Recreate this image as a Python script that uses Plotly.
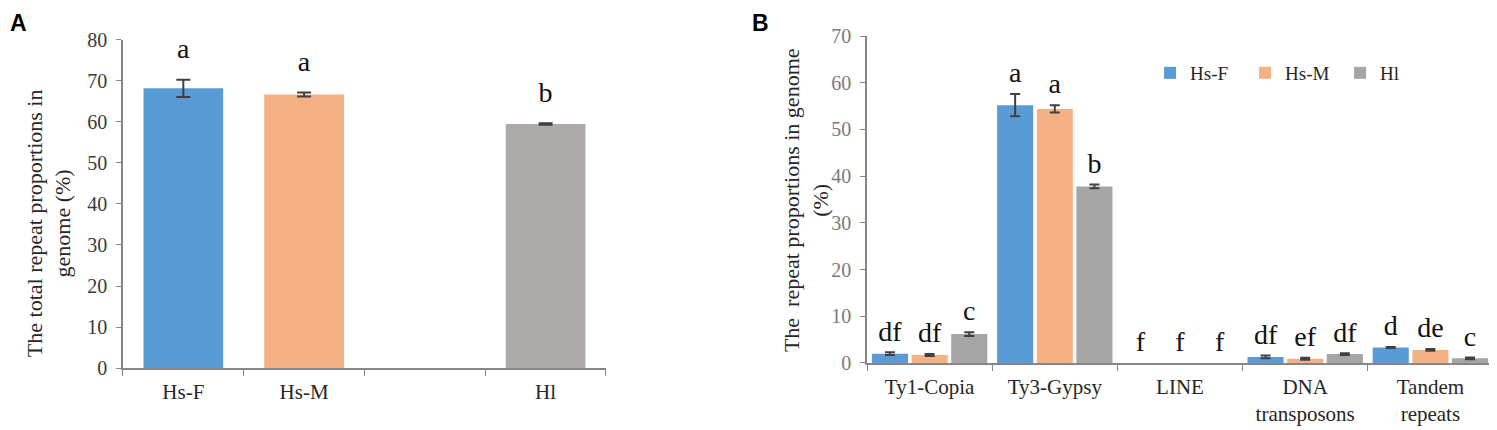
import plotly.graph_objects as go

# panel A data
groups_a = ["Hs-F", "Hs-M", " ", "Hl"]
total_a = [68.2, 66.7, None, 59.5]
total_err_a = [2.1, 0.5, None, 0.2]
letters_a = ["a", "a", "", "b"]
colors_a = ["#5B9BD5", "#F4B183", "#FFFFFF", "#AEAAAA"]

# panel B data (LINE is ~0 and shows no bar)
repeat_types = ["Ty1-Copia", "Ty3-Gypsy", "LINE", "DNA<br>transposons", "Tandem<br>repeats"]
hs_f = [2.0, 55.2, None, 1.3, 3.3]
hs_f_err = [0.3, 2.4, None, 0.3, 0.1]
hs_m = [1.7, 54.4, None, 0.9, 2.8]
hs_m_err = [0.2, 0.8, None, 0.2, 0.2]
hl = [6.2, 37.8, None, 1.9, 1.0]
hl_err = [0.4, 0.4, None, 0.2, 0.2]
letters_f = ["df", "a", "f", "df", "d"]
letters_m = ["df", "a", "f", "ef", "de"]
letters_l = ["c", "b", "f", "df", "c"]

SERIF = "Liberation Serif"
LETTER_FONT = dict(family=SERIF, size=28, color="#111111")

fig = go.Figure()

# ---- panel A
fig.add_trace(
    go.Bar(
        x=groups_a,
        y=total_a,
        width=0.66,
        marker=dict(color=colors_a, line=dict(width=0)),
        error_y=dict(type="data", array=total_err_a, thickness=2, width=7, color="#404040"),
        showlegend=False,
        xaxis="x",
        yaxis="y",
    )
)
fig.add_trace(
    go.Scatter(
        x=groups_a,
        y=[(v or 0) + (e or 0) + 3.5 for v, e in zip(total_a, total_err_a)],
        mode="text",
        text=letters_a,
        textposition="top center",
        textfont=LETTER_FONT,
        cliponaxis=False,
        showlegend=False,
        hoverinfo="skip",
        xaxis="x",
        yaxis="y",
    )
)

# ---- panel B
series = [
    ("Hs-F", hs_f, hs_f_err, letters_f, "#5B9BD5"),
    ("Hs-M", hs_m, hs_m_err, letters_m, "#F4B183"),
    ("Hl", hl, hl_err, letters_l, "#A5A5A5"),
]
for name, vals, errs, letters, color in series:
    fig.add_trace(
        go.Bar(
            x=repeat_types,
            y=vals,
            name=name,
            offsetgroup=name,
            marker=dict(color=color, line=dict(width=0)),
            error_y=dict(type="data", array=errs, thickness=2, width=5, color="#404040"),
            xaxis="x2",
            yaxis="y2",
        )
    )
for name, vals, errs, letters, color in series:
    fig.add_trace(
        go.Scatter(
            x=repeat_types,
            y=[(v or 0) + (e or 0) + 1 for v, e in zip(vals, errs)],
            mode="text",
            text=letters,
            offsetgroup=name,
            textposition="top center",
            textfont=LETTER_FONT,
            cliponaxis=False,
            showlegend=False,
            hoverinfo="skip",
            xaxis="x2",
            yaxis="y2",
        )
    )

axis_x = dict(
    type="category",
    automargin=False,
    showline=True,
    linecolor="#868686",
    linewidth=1.5,
    ticks="outside",
    tickson="boundaries",
    ticklen=6,
    tickcolor="#868686",
    ticklabelstandoff=4,
    tickfont=dict(family=SERIF, size=21, color="#262626"),
    showgrid=False,
    zeroline=False,
)
axis_y = dict(
    automargin=False,
    showline=True,
    linecolor="#868686",
    linewidth=1.5,
    ticks="outside",
    ticklen=5,
    tickcolor="#868686",
    ticklabelstandoff=5,
    dtick=10,
    showgrid=False,
    zeroline=False,
)

# page body adds 8px, so the figure is drawn 8px smaller each way
fig.update_layout(
    width=1489,
    height=422,
    margin=dict(l=0, r=0, t=0, b=0, autoexpand=False),
    paper_bgcolor="white",
    plot_bgcolor="white",
    barmode="group",
    bargap=0.05,
    bargroupgap=0.09,
    scattermode="group",
    scattergap=0.05,
    xaxis=dict(axis_x, domain=[0.0772, 0.4016], anchor="y"),
    yaxis=dict(
        axis_y,
        domain=[0.1469, 0.9242],
        range=[0, 80],
        anchor="x",
        tickfont=dict(family=SERIF, size=20, color="#3A3A3A"),
    ),
    xaxis2=dict(axis_x, domain=[0.5769, 0.9973], anchor="y2"),
    yaxis2=dict(
        axis_y,
        domain=[0.1588, 0.9336],
        range=[0, 70],
        anchor="x2",
        tickfont=dict(family=SERIF, size=20, color="#7A7A7A"),
    ),
    legend=dict(
        orientation="h",
        x=0.767,
        y=0.846,
        xanchor="left",
        yanchor="middle",
        font=dict(family=SERIF, size=19, color="#262626"),
        itemwidth=30,
        entrywidth=50,
        bgcolor="rgba(0,0,0,0)",
    ),
    showlegend=True,
)

# axis titles and panel letters
fig.add_annotation(
    text="The total repeat proportions in<br>genome (%)",
    x=0.0275, y=0.49, xref="paper", yref="paper",
    xanchor="center", yanchor="middle",
    textangle=-90, showarrow=False,
    font=dict(family=SERIF, size=22, color="#262626"),
)
fig.add_annotation(
    text="The  repeat proportions in genome<br>(%)",
    x=0.536, y=0.545, xref="paper", yref="paper",
    xanchor="center", yanchor="middle",
    textangle=-90, showarrow=False,
    font=dict(family=SERIF, size=22, color="#262626"),
)
fig.add_annotation(
    text="<b>A</b>", x=0.0, y=1.0, xref="paper", yref="paper",
    xanchor="left", yanchor="top", showarrow=False,
    font=dict(family="Liberation Sans", size=23, color="black"),
)
fig.add_annotation(
    text="<b>B</b>", x=0.4985, y=1.0, xref="paper", yref="paper",
    xanchor="left", yanchor="top", showarrow=False,
    font=dict(family="Liberation Sans", size=23, color="black"),
)

fig.write_html("out.html")
